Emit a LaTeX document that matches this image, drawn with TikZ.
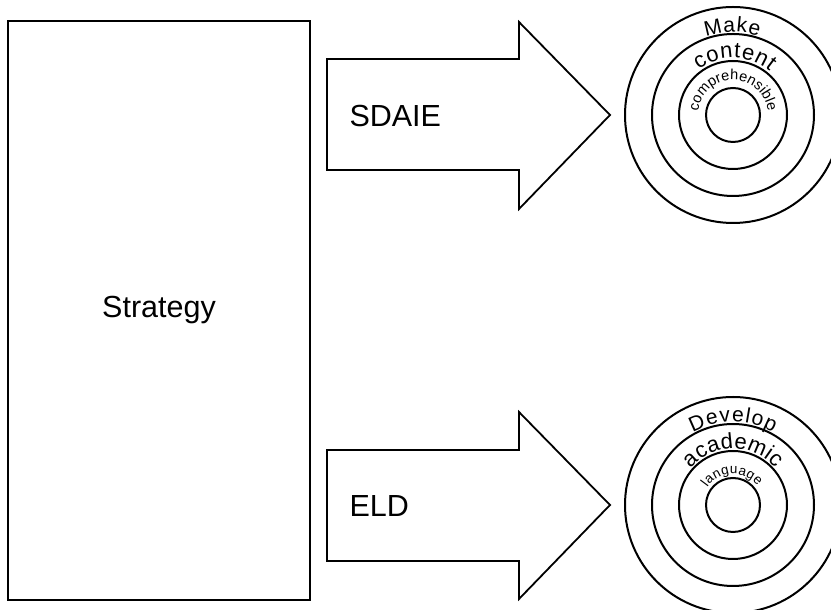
\documentclass[tikz,border=0pt]{standalone}
\usepackage{fontspec}
\setmainfont{Liberation Sans}
\usetikzlibrary{decorations.text}

\begin{document}
\begin{tikzpicture}[x=1pt,y=1pt,
  big/.style={font=\fontsize{30.5}{36}\selectfont},
  ring/.style={line width=2},
  ringtext/.style 2 args={decorate,decoration={text along path,
    text align=fit to path,text={|\fontsize{#1}{#1}\selectfont|#2}}}]
  \useasboundingbox (0,0) rectangle (831,610);
  \clip (0,0) rectangle (831,610);

  % Strategy box
  \node[draw, ring, big, minimum width=302, minimum height=579, inner sep=0] (strategy) at (159,299.5) {Strategy};

  % Top arrow
  \draw[line width=1.8] (327,440) -- (519,440) -- (519,401) -- (610,495) -- (519,588) -- (519,551) -- (327,551) -- cycle;
  \node[big, anchor=base west] (sdaie) at (346,483) {SDAIE};

  % Bottom arrow
  \draw[line width=1.8] (327,49) -- (519,49) -- (519,11) -- (610,105) -- (519,198) -- (519,160) -- (327,160) -- cycle;
  \node[big, anchor=base west] (eld) at (346,93) {ELD};

  % Top target
  \coordinate (make) at (733,495);
  \foreach \r in {108,81,54,27}
    \draw[ring] (make) circle (\r);
  \path[ringtext={21}{Make}] ([shift={(109:83)}]make) arc (109:72:83);
  \path[ringtext={22}{content}] ([shift={(127:57)}]make) arc (127:50:57);
  \path[ringtext={14.5}{comprehensible}] ([shift={(174:35)}]make) arc (174:6:35);

  % Bottom target
  \coordinate (develop) at (733,105);
  \foreach \r in {108,81,54,27}
    \draw[ring] (develop) circle (\r);
  \path[ringtext={21}{Develop}] ([shift={(119:83)}]develop) arc (119:61:83);
  \path[ringtext={22}{academic}] ([shift={(139:56)}]develop) arc (139:41:56);
  \path[ringtext={13.5}{language}] ([shift={(146:31)}]develop) arc (146:38:31);
\end{tikzpicture}
\end{document}
